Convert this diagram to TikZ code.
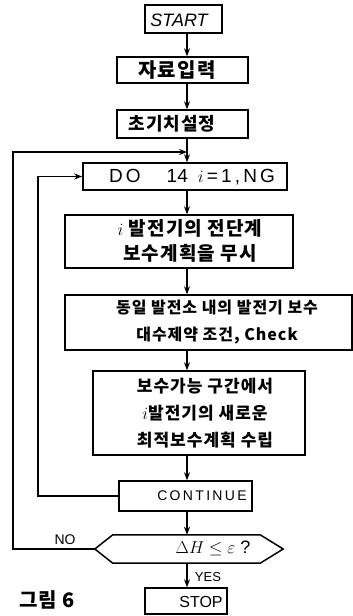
\documentclass[tikz,border=0pt]{standalone}
\usepackage{fontspec}
\setmainfont{Liberation Sans}
\newfontfamily\kr{Noto Sans CJK KR}[LetterSpace=6]
\usetikzlibrary{arrows.meta}
\tikzset{
  box/.style={draw, line width=1.5pt, rectangle, inner sep=0pt},
  flow/.style={line width=1.2pt, -{Stealth[length=8pt,width=6pt]}},
  txt/.style={inner sep=0pt, align=center},
}
\begin{document}
\begin{tikzpicture}[x=1pt,y=-1pt]
\useasboundingbox (0,0) rectangle (353,616);
\coordinate (ax) at (187,0);
% boxes
\node[box, minimum width=77pt, minimum height=28pt] (start) at (183.5,19) {};
\node[box, minimum width=131pt, minimum height=26pt] (in1) at (182.5,70) {};
\node[box, minimum width=131pt, minimum height=28pt] (init) at (182.5,124) {};
\node[box, minimum width=204pt, minimum height=27pt] (do) at (185,176.5) {};
\node[box, minimum width=228pt, minimum height=53pt] (b2) at (179,241.5) {};
\node[box, minimum width=287pt, minimum height=55pt] (b3) at (208.5,322.5) {};
\node[box, minimum width=212pt, minimum height=84pt] (b4) at (199,413) {};
\node[box, minimum width=133pt, minimum height=30pt] (cont) at (185.5,496) {};
\node[inner sep=0pt, minimum width=188pt, minimum height=28pt] (dec) at (189,549) {};
\draw[line width=1.5pt] (dec.west) -- ([xshift=18pt]dec.north west) -- ([xshift=-23pt]dec.north east) -- (dec.east) -- ([xshift=-23pt]dec.south east) -- ([xshift=18pt]dec.south west) -- cycle;
\node[box, minimum width=82pt, minimum height=26pt] (stop) at (186,601) {};
% texts
\node[txt, font=\fontsize{18}{20}\selectfont\itshape] (tstart) at (179,20) {START};
\node[txt, font=\kr\bfseries\fontsize{20}{24}\selectfont] (tin1) at (177,70) {자료입력};
\node[txt, font=\kr\bfseries\fontsize{18}{22}\selectfont] (tinit) at (172,124) {초기치설정};
\node[txt, font=\fontsize{19}{20}\selectfont] (tdo) at (192,177) {D\,O\hspace{26pt}14\hspace{10pt}$i$\,=\,1\,,\,N\,G};
\node[txt, font=\kr\bfseries\fontsize{19}{25}\selectfont] (tb2) at (190,241) {$i$ 발전기의 전단계\\보수계획을 무시};
\node[txt, font=\kr\bfseries\fontsize{16}{27}\selectfont] (tb3) at (217,322) {동일 발전소 내의 발전기 보수\\대수제약 조건, Check};
\node[txt, font=\kr\bfseries\fontsize{17}{27}\selectfont] (tb4) at (205,413) {보수가능 구간에서\\$i$발전기의 새로운\\최적보수계획 수립};
\node[txt, font=\fontsize{14}{16}\selectfont] (tcont) at (202,496) {C\,O\,N\,T\,I\,N\,U\,E};
\node[txt, font=\fontsize{18}{20}\selectfont] (tdec) at (213,548) {$\Delta H \leq \varepsilon$ ?};
\node[txt, font=\fontsize{16}{18}\selectfont] (tstop) at (201,602) {STOP};
\node[txt, font=\fontsize{13}{15}\selectfont] (yes) at (208,577) {YES};
\node[txt, font=\fontsize{14}{15}\selectfont] (no) at (65,540) {NO};
\node[txt, font=\kr\bfseries\fontsize{20}{22}\selectfont] (fig) at (47,600) {그림 6};
% connectors
\draw[flow] (start.south -| ax) -- (in1.north -| ax);
\draw[flow] (in1.south -| ax) -- (init.north -| ax);
\draw[flow] (init.south -| ax) -- (do.north -| ax);
\draw[flow] (do.south -| ax) -- (b2.north -| ax);
\draw[flow] (b2.south -| ax) -- (b3.north -| ax);
\draw[flow] (b3.south -| ax) -- (b4.north -| ax);
\draw[flow] (b4.south -| ax) -- (cont.north -| ax);
\draw[flow] (cont.south -| ax) -- (dec.north -| ax);
\draw[flow] (dec.south -| ax) -- (stop.north -| ax);
\coordinate (j) at (187,152);
\draw[flow] (dec.west) -- (13,549) |- (j);
\draw[flow] (cont.west) -- (38,496) |- (do.west);
\end{tikzpicture}
\end{document}
